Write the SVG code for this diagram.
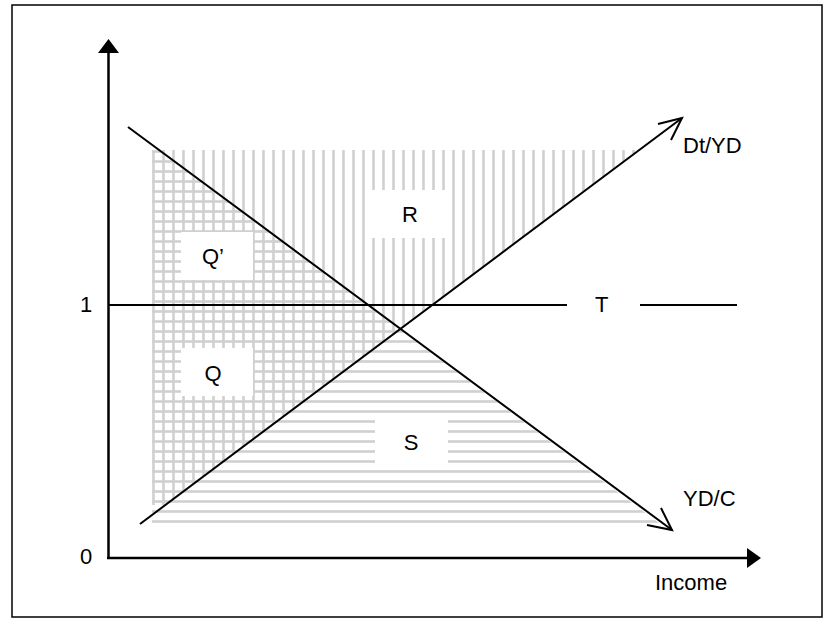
<svg xmlns="http://www.w3.org/2000/svg" width="823" height="619" viewBox="0 0 823 619">
<style>
.t{font-family:"Liberation Sans",Arial,sans-serif;font-size:22px;fill:#000}
.c{text-anchor:middle}
.ln{stroke:#000;stroke-width:2;fill:none}
.ax{stroke:#000;stroke-width:2.5;fill:none}
.box{fill:#fff}
</style>
<defs>
<pattern id="vert" patternUnits="userSpaceOnUse" x="152" y="0" width="10" height="20">
<rect x="0.2" y="0" width="2.6" height="20" fill="#d0d0d0"/>
</pattern>
<pattern id="horiz" patternUnits="userSpaceOnUse" x="0" y="150" width="20" height="10">
<rect x="0" y="0.2" width="20" height="2.6" fill="#d0d0d0"/>
</pattern>
</defs>
<rect x="12" y="5" width="810" height="612" fill="#fff" stroke="#000" stroke-width="1.5"/>
<g id="hatching">
<polygon points="152,150 640,150 165,505 152,505" fill="url(#vert)"/>
<polygon points="152,150 159,150 659,523 152,523" fill="url(#horiz)"/>
</g>
<g id="label-boxes">
<rect class="box" x="181" y="232" width="72" height="48"/>
<rect class="box" x="181" y="348" width="72" height="48"/>
<rect class="box" x="372" y="190" width="75" height="48"/>
<rect class="box" x="375" y="418" width="73" height="47"/>
</g>
<g id="axes">
<line class="ax" x1="108.5" y1="52" x2="108.5" y2="559"/>
<polygon points="108.5,39 98,53 119,53" fill="#000"/>
<line class="ax" x1="107" y1="558" x2="748" y2="558"/>
<polygon points="761,558 747,548 747,568" fill="#000"/>
</g>
<g id="connectors">
<g id="line-T">
<line class="ln" x1="109" y1="305" x2="567" y2="305"/>
<line class="ln" x1="640" y1="305" x2="737" y2="305"/>
</g>
<g id="line-DtYD">
<line class="ln" x1="140" y1="524" x2="682" y2="118"/>
<polyline class="ln" points="658,124 682,118 671,140"/>
</g>
<g id="line-YDC">
<line class="ln" x1="128" y1="127" x2="672" y2="530"/>
<polyline class="ln" points="647,525 672,530 661,508"/>
</g>
</g>
<g id="labels">
<text class="t c" x="213" y="264">Q’</text>
<text class="t c" x="213" y="381">Q</text>
<text class="t c" x="410" y="222">R</text>
<text class="t c" x="411" y="450">S</text>
<text class="t" x="595" y="312">T</text>
<text class="t" x="80" y="312">1</text>
<text class="t" x="80" y="564">0</text>
<text class="t" x="683" y="153">Dt/YD</text>
<text class="t" x="683" y="506">YD/C</text>
<text class="t" x="655" y="590">Income</text>
</g>
</svg>
